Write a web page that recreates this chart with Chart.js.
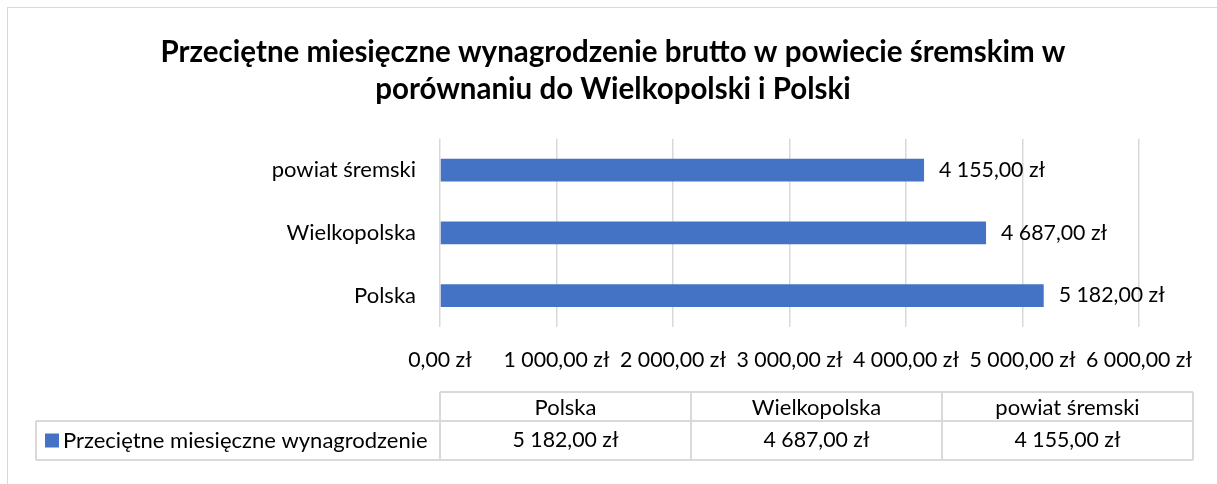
<!DOCTYPE html>
<html lang="pl">
<head>
<meta charset="utf-8">
<script src="https://cdn.jsdelivr.net/npm/chart.js@4.4.1/dist/chart.umd.min.js"></script>
<style>
  html, body { margin:0; padding:0; background:#fff; overflow:hidden; }
  #wrap { position:relative; width:1217px; height:484px; }
  #frame { position:absolute; left:7px; top:7px; width:1300px; height:600px; border:1px solid #d9d9d9; box-sizing:border-box; }
  canvas { position:absolute; left:0; top:0; }
</style>
</head>
<body>
<div id="wrap">
  <div id="frame"></div>
  <canvas id="chart" width="1217" height="484"></canvas>
</div>
<script>
// dane
const categories = ['Polska', 'Wielkopolska', 'powiat śremski'];
const salaries = [5182, 4687, 4155];
const seriesName = 'Przeciętne miesięczne wynagrodzenie';
const titleLines = ['Przeciętne miesięczne wynagrodzenie brutto w powiecie śremskim w', 'porównaniu do Wielkopolski i Polski'];
const xMax = 6000;
const xStep = 1000;

const FONT = 'Lato, "Open Sans", sans-serif';
const BLUE = '#4472C4';
const GRID = '#d9d9d9';
const NUM_SIZE = 21.3;
const TXT_SIZE = 22;

// 1 000,00 zł
function zl(v){
  const parts = Number(v).toFixed(2).split('.');
  return parts[0].replace(/\B(?=(\d{3})+(?!\d))/g, ' ') + ',' + parts[1] + ' zł';
}

// etykiety wartości przy słupkach
const valueLabels = {
  id: 'valueLabels',
  afterDatasetsDraw(chart){
    const { ctx } = chart;
    const meta = chart.getDatasetMeta(0);
    ctx.save();
    ctx.font = NUM_SIZE + 'px ' + FONT;
    ctx.fillStyle = '#000';
    ctx.textAlign = 'left';
    ctx.textBaseline = 'middle';
    meta.data.forEach((bar, i)=>{
      ctx.fillText(zl(salaries[i]), bar.x + 15, bar.y);
    });
    ctx.restore();
  }
};

// tabela danych pod wykresem
const dataTable = {
  id: 'dataTable',
  afterDraw(chart){
    const { ctx, chartArea } = chart;
    const left = chartArea.left;
    const colW = 251;
    const top = chartArea.bottom + 65;
    const hHead = 29, hRow = 39;
    const legendLeft = 36;
    const right = left + colW * categories.length;

    ctx.save();
    ctx.strokeStyle = GRID;
    ctx.lineWidth = 2;
    ctx.beginPath();
    ctx.moveTo(left, top); ctx.lineTo(right, top);
    ctx.moveTo(legendLeft, top + hHead); ctx.lineTo(right, top + hHead);
    ctx.moveTo(legendLeft, top + hHead + hRow); ctx.lineTo(right, top + hHead + hRow);
    ctx.moveTo(legendLeft, top + hHead); ctx.lineTo(legendLeft, top + hHead + hRow);
    for(let i=0;i<=categories.length;i++){
      const x = left + colW * i;
      ctx.moveTo(x, top); ctx.lineTo(x, top + hHead + hRow);
    }
    ctx.stroke();

    ctx.fillStyle = '#000';
    ctx.textBaseline = 'middle';
    ctx.textAlign = 'center';
    categories.forEach((c, i)=>{
      const cx = left + colW * i + colW / 2;
      ctx.font = TXT_SIZE + 'px ' + FONT;
      ctx.fillText(c, cx, top + hHead / 2 + 1);
      ctx.font = NUM_SIZE + 'px ' + FONT;
      ctx.fillText(zl(salaries[i]), cx, top + hHead + hRow / 2);
    });

    // legenda
    ctx.fillStyle = BLUE;
    ctx.fillRect(legendLeft + 9, top + hHead + hRow / 2 - 7, 14, 14);
    ctx.fillStyle = '#000';
    ctx.textAlign = 'left';
    ctx.font = TXT_SIZE + 'px ' + FONT;
    ctx.fillText(seriesName, legendLeft + 27, top + hHead + hRow / 2);
    ctx.restore();
  }
};

new Chart(document.getElementById('chart'), {
  type: 'bar',
  data: {
    labels: categories,
    datasets: [{
      label: seriesName,
      data: salaries,
      backgroundColor: BLUE,
      borderWidth: 0,
      categoryPercentage: 1,
      barPercentage: 0.365
    }]
  },
  options: {
    indexAxis: 'y',
    responsive: false,
    animation: false,
    layout: { padding: { left: 87, right: 78, top: 7, bottom: 107 } },
    plugins: {
      legend: { display: false },
      tooltip: { enabled: false },
      title: {
        display: true,
        text: titleLines,
        color: '#000',
        font: { family: FONT, size: 29.5, weight: 'bold', lineHeight: 1.25 },
        padding: { top: 27, bottom: 31 }
      }
    },
    scales: {
      x: {
        min: 0, max: xMax,
        ticks: {
          stepSize: xStep,
          autoSkip: false,
          maxRotation: 0,
          padding: 20,
          color: '#000',
          font: { family: FONT, size: NUM_SIZE },
          callback: (v)=> zl(v)
        },
        grid: { color: GRID, lineWidth: 1.5, drawTicks: false },
        border: { display: false },
        afterFit(scale){ scale.height = 50; }
      },
      y: {
        reverse: true,
        ticks: {
          padding: 24,
          color: '#000',
          font: { family: FONT, size: TXT_SIZE }
        },
        grid: { display: false, drawTicks: false },
        border: { display: false },
        afterFit(scale){ scale.width = 353; }
      }
    }
  },
  plugins: [valueLabels, dataTable]
});
</script>
</body>
</html>
